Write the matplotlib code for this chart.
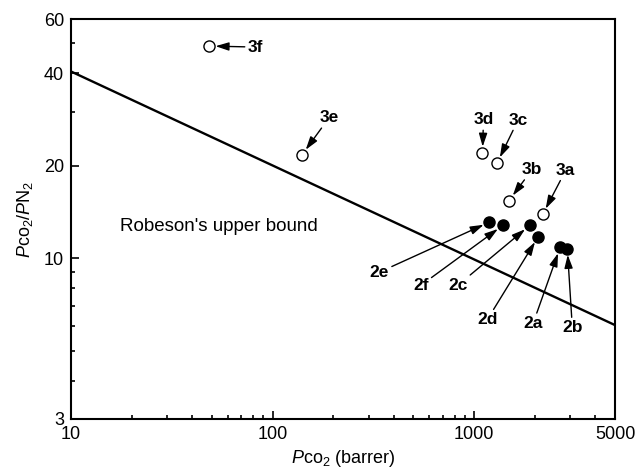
import numpy as np
import matplotlib
matplotlib.use('Agg')
import matplotlib.pyplot as plt
from matplotlib.ticker import FixedLocator, NullFormatter

plt.rcParams['font.family'] = ['Liberation Sans', 'DejaVu Sans']
plt.rcParams['mathtext.fontset'] = 'custom'
plt.rcParams['mathtext.rm'] = 'Liberation Sans'
plt.rcParams['mathtext.it'] = 'Liberation Sans:italic'

# membranes 3a-3f (open symbols)
open_labels = ['3a', '3b', '3c', '3d', '3e', '3f']
open_x = [2190, 1490, 1300, 1100, 140, 48.5]
open_y = [13.9, 15.4, 20.4, 22.0, 21.7, 49.0]

# membranes 2a-2f (filled symbols)
filled_labels = ['2a', '2b', '2c', '2d', '2e', '2f']
filled_x = [2670, 2900, 1890, 2080, 1190, 1390]
filled_y = [10.85, 10.75, 12.8, 11.75, 13.1, 12.8]

# Robeson upper bound end points
bound_x = [10, 5000]
bound_y = [40.5, 6.06]

x_ticks = [10, 100, 1000, 5000]
y_ticks = [3, 10, 20, 40, 60]

# label offsets from point, in pixels
offsets = {
    '3a': (23, 44), '3b': (23, 31), '3c': (21, 43), '3d': (1, 33),
    '3e': (27, 37), '3f': (46, -1),
    '2a': (-27, -76), '2b': (5, -79), '2c': (-72, -60), '2d': (-51, -83),
    '2e': (-110, -50), '2f': (-82, -60),
}

fig = plt.figure(figsize=(6.37, 4.73), dpi=100)
ax = fig.add_axes([0.1115, 0.1142, 0.854, 0.8456])

ax.plot(bound_x, bound_y, color='black', lw=1.7)
ax.plot(open_x, open_y, 'o', ms=8, mfc='white', mec='black', mew=1, ls='none')
ax.plot(filled_x, filled_y, 'o', ms=8, mfc='black', mec='black', mew=1, ls='none')

arrow = dict(arrowstyle='-|>,head_length=0.8,head_width=0.25', color='black',
             lw=1, shrinkA=0, shrinkB=4.5, mutation_scale=10)
for lab, x, y in zip(open_labels + filled_labels, open_x + filled_x, open_y + filled_y):
    ax.annotate(lab, xy=(x, y), xytext=offsets[lab], textcoords='offset pixels',
                ha='center', va='center', fontsize=12.5, fontweight='bold',
                arrowprops=arrow)

ax.text(0.09, 0.48, "Robeson's upper bound", transform=ax.transAxes,
        fontsize=13.5, ha='left', va='center')

ax.set_xscale('log')
ax.set_yscale('log')
ax.set_xlim(10, 5000)
ax.set_ylim(3, 60)

ax.xaxis.set_major_locator(FixedLocator(x_ticks))
ax.xaxis.set_minor_locator(FixedLocator([20, 30, 40, 50, 60, 70, 80, 90,
                                         200, 300, 400, 500, 600, 700, 800, 900,
                                         2000, 3000, 4000]))
ax.set_xticklabels([str(v) for v in x_ticks])
ax.xaxis.set_minor_formatter(NullFormatter())
ax.yaxis.set_major_locator(FixedLocator(y_ticks))
ax.yaxis.set_minor_locator(FixedLocator([4, 5, 6, 7, 8, 9, 30, 50]))
ax.set_yticklabels([str(v) for v in y_ticks])
ax.yaxis.set_minor_formatter(NullFormatter())

ax.tick_params(which='both', direction='in', labelsize=13, width=1.2,
               top=False, right=False)
ax.tick_params(which='major', length=6, pad=5)
ax.tick_params(which='minor', length=3)
for s in ax.spines.values():
    s.set_linewidth(1.5)

ax.set_xlabel(r'$\mathit{P}$co$_2$ (barrer)', fontsize=13, labelpad=4)
ax.set_ylabel(r'$\mathit{P}$co$_2$/$\mathit{P}$N$_2$', fontsize=13, labelpad=6)

plt.savefig('out.png', dpi=100)
